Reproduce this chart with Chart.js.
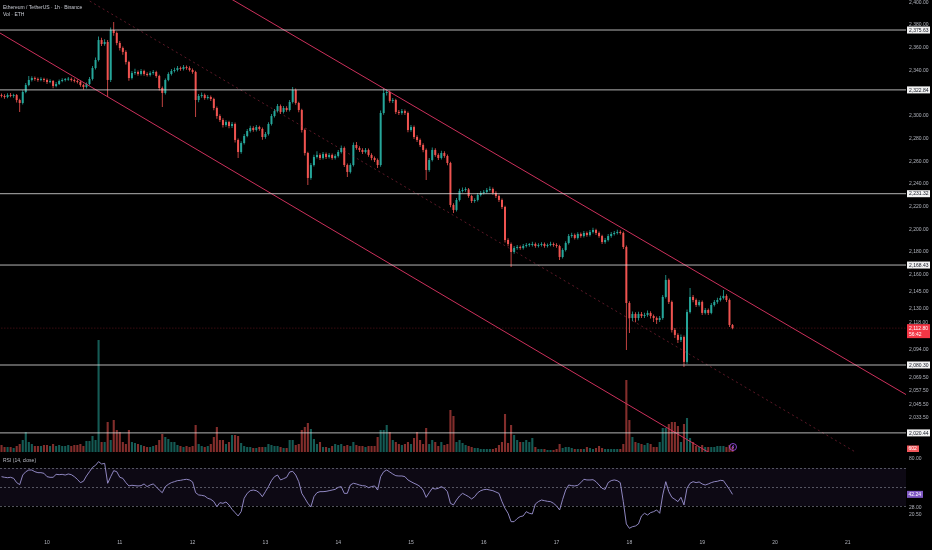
<!DOCTYPE html>
<html><head><meta charset="utf-8">
<script src="https://cdn.jsdelivr.net/npm/chart.js@4.4.1/dist/chart.umd.min.js"></script>
<style>
html,body{margin:0;padding:0;background:#000;width:932px;height:550px;overflow:hidden}
#w1{position:absolute;left:0;top:0;width:932px;height:452px}
#w2{position:absolute;left:0;top:455px;width:932px;height:95px}
canvas{display:block}
</style></head><body>
<div id="w1"><canvas id="c1"></canvas></div>
<div id="w2"><canvas id="c2"></canvas></div>
<script>
// ---------- text ----------
const titleText = 'Ethereum / TetherUS · 1h · Binance';
const volTitle = 'Vol · ETH';
const rsiTitle = 'RSI (14, close)';
const countdown = '56:42';
// ---------- categories (hourly candles; hour 0 = day 10, 00:00) ----------
const firstHour = -15;
const dayLabels = ['10','11','12','13','14','15','16','17','18','19','20','21'];
// ---------- tick labels ----------
const priceTicks = [2400,2380,2360,2340,2300,2280,2260,2240,2220,2200,2180,2160,2145,2130,2118,2094,2069.5,2057.5,2045.5,2033.5];
const rsiTicks = [80,28,20.5];
// ---------- drawings ----------
const levels = [2375.63,2322.84,2231.32,2168.43,2080.30,2020.44];
const upperChannel = [{x:50,y:2419.8},{x:290,y:2043.6}];
const lowerChannel = [{x:-20,y:2380.1},{x:230,y:1984.5}];
const midChannel = [{x:-20,y:2454.8},{x:290,y:1966.6}];
// ---------- series ----------
const opens = [
2318.0,2317.5,2316.6,2318.3,2317.5,2318.3,2313.9,2311.3,2321.0,2327.2,
2331.6,2333.3,2332.5,2331.6,2332.5,2331.6,2329.8,2330.7,2326.3,2328.0,
2330.7,2331.6,2331.9,2332.5,2331.6,2330.7,2329.8,2327.2,2325.4,2328.0,
2332.5,2342.1,2349.2,2366.8,2363.3,2365.1,2331.6,2375.6,2373.0,2364.2,
2359.8,2356.3,2347.4,2333.3,2337.7,2338.6,2336.9,2339.5,2336.9,2336.0,
2337.7,2338.6,2335.1,2324.5,2320.1,2331.6,2336.9,2339.5,2340.4,2342.1,
2341.3,2343.0,2342.1,2340.4,2338.6,2313.9,2317.5,2318.3,2315.7,2316.6,
2314.8,2306.9,2299.8,2296.3,2291.9,2294.5,2291.0,2292.8,2278.7,2268.1,
2276.0,2282.2,2286.6,2289.3,2287.5,2290.1,2288.4,2281.3,2284.0,2292.8,
2299.8,2304.2,2308.6,2303.4,2306.9,2305.1,2312.2,2322.8,2311.3,2305.1,
2287.5,2267.2,2245.2,2256.6,2263.7,2265.5,2262.8,2266.3,2263.7,2265.5,
2262.8,2264.6,2268.1,2271.6,2256.6,2250.5,2256.6,2274.3,2271.6,2269.9,
2268.1,2269.9,2265.5,2262.8,2261.0,2256.6,2302.5,2320.1,2321.0,2313.1,
2313.9,2303.4,2302.5,2304.2,2302.5,2287.5,2290.1,2281.3,2278.7,2274.3,
2269.9,2252.2,2261.0,2269.9,2265.5,2262.8,2267.2,2264.6,2258.4,2221.4,
2217.0,2225.8,2233.7,2234.6,2235.1,2229.3,2224.9,2225.8,2230.2,2232.0,
2232.8,2234.6,2235.5,2232.0,2229.3,2225.8,2219.6,2190.5,2187.0,2179.9,
2183.5,2184.3,2183.5,2185.2,2186.1,2186.1,2187.0,2185.2,2186.1,2187.0,
2185.2,2186.1,2187.0,2186.1,2185.2,2175.5,2181.7,2187.9,2194.0,2194.9,
2192.3,2195.8,2194.0,2196.7,2194.9,2197.6,2199.3,2196.7,2194.0,2188.7,
2190.5,2194.0,2195.8,2196.7,2197.6,2196.7,2184.3,2135.0,2121.7,2125.3,
2121.7,2125.3,2123.5,2124.4,2126.2,2123.5,2121.7,2120.0,2121.7,2140.3,
2155.3,2135.9,2111.2,2106.8,2102.4,2105.0,2083.0,2127.0,2140.3,2137.6,
2133.2,2135.9,2126.2,2128.8,2126.2,2133.2,2135.9,2137.6,2139.4,2141.2,
2137.6,2115.6];
const highs = [
2319.6,2318.9,2319.8,2320.1,2319.5,2319.2,2315.0,2322.6,2329.0,2335.2,
2334.9,2334.6,2333.8,2334.0,2333.6,2332.8,2332.2,2331.5,2329.7,2332.0,
2333.1,2333.4,2334.2,2333.7,2332.9,2332.0,2330.9,2328.3,2329.4,2334.3,
2344.0,2351.5,2369.9,2368.9,2367.4,2366.8,2377.9,2382.7,2374.4,2366.0,
2361.2,2357.8,2348.6,2339.6,2341.5,2340.0,2341.3,2340.7,2338.4,2339.3,
2340.4,2339.8,2336.2,2325.8,2333.0,2338.5,2341.2,2342.3,2343.9,2343.4,
2344.8,2344.3,2343.6,2341.7,2339.8,2319.2,2320.5,2319.6,2318.3,2317.9,
2315.9,2308.2,2301.4,2297.8,2296.1,2295.7,2294.6,2294.0,2279.9,2277.6,
2283.9,2288.4,2291.2,2290.8,2291.9,2291.3,2289.6,2285.8,2294.3,2301.6,
2306.1,2310.5,2310.0,2308.7,2308.4,2314.0,2325.4,2324.0,2312.5,2306.3,
2288.8,2268.4,2258.3,2265.6,2268.8,2266.9,2268.0,2267.6,2267.2,2266.8,
2266.2,2269.8,2273.9,2272.9,2258.0,2258.2,2276.5,2277.0,2273.2,2271.3,
2271.6,2271.1,2266.9,2264.2,2262.3,2304.6,2324.5,2323.2,2322.3,2315.8,
2315.0,2305.2,2306.0,2305.6,2303.7,2292.0,2291.4,2282.8,2280.0,2275.8,
2271.1,2262.8,2272.0,2271.4,2267.0,2269.1,2268.7,2265.9,2259.6,2223.0,
2227.6,2235.6,2236.9,2237.0,2236.3,2230.5,2227.4,2231.9,2233.8,2234.6,
2236.4,2237.6,2236.8,2233.4,2230.6,2227.0,2220.8,2192.0,2188.4,2185.2,
2186.1,2185.7,2187.0,2187.8,2187.9,2189.0,2188.3,2187.7,2188.6,2188.4,
2187.5,2188.9,2188.2,2187.6,2186.4,2183.2,2189.5,2195.9,2196.8,2196.2,
2197.4,2197.1,2198.5,2198.0,2199.3,2201.4,2200.5,2198.0,2195.2,2192.2,
2195.7,2197.6,2198.4,2199.6,2199.0,2197.9,2185.6,2136.5,2127.4,2126.8,
2127.2,2127.0,2126.3,2128.3,2127.6,2124.9,2123.0,2123.5,2142.1,2159.7,
2156.5,2137.1,2113.0,2108.3,2107.1,2106.4,2129.2,2148.2,2142.0,2139.0,
2137.7,2137.2,2130.6,2130.1,2134.9,2137.6,2139.5,2141.3,2146.4,2142.7,
2138.9,2116.4];
const lows = [
2316.2,2315.0,2315.4,2316.3,2316.0,2311.8,2303.4,2309.9,2319.8,2326.0,
2330.2,2331.0,2330.1,2330.4,2329.9,2328.1,2328.6,2324.4,2325.1,2327.1,
2329.6,2330.3,2330.8,2330.2,2329.3,2328.4,2325.6,2323.1,2324.0,2326.9,
2331.2,2340.8,2347.8,2361.5,2361.8,2316.6,2329.8,2370.6,2362.3,2357.6,
2353.9,2345.3,2330.8,2331.9,2336.2,2335.3,2335.6,2335.4,2334.6,2334.7,
2336.3,2333.6,2322.3,2307.8,2318.7,2330.4,2335.6,2338.1,2339.0,2339.8,
2340.0,2340.7,2339.0,2337.1,2299.0,2311.9,2316.0,2314.2,2314.3,2313.1,
2305.0,2297.5,2294.6,2289.8,2290.4,2289.1,2289.3,2276.4,2262.8,2266.5,
2274.8,2281.0,2285.3,2285.9,2286.1,2286.8,2278.9,2279.7,2282.6,2291.5,
2298.4,2302.9,2301.5,2302.0,2303.6,2303.8,2310.9,2309.7,2303.2,2285.2,
2264.9,2239.0,2243.6,2255.2,2262.3,2261.1,2261.5,2262.0,2262.3,2261.3,
2261.4,2263.2,2266.8,2254.9,2246.0,2249.1,2255.2,2270.1,2268.0,2266.4,
2266.7,2263.8,2260.9,2259.3,2254.0,2255.1,2301.0,2317.9,2311.5,2311.4,
2301.6,2300.8,2300.9,2300.7,2285.4,2286.0,2279.6,2276.9,2272.4,2267.8,
2243.4,2250.6,2259.7,2263.9,2261.0,2261.4,2263.0,2256.5,2219.3,2214.3,
2215.6,2224.5,2232.3,2233.1,2227.8,2223.1,2223.3,2224.4,2228.9,2230.6,
2231.4,2233.3,2230.5,2227.6,2224.0,2217.8,2188.3,2184.9,2166.7,2178.4,
2181.9,2182.0,2182.1,2183.9,2184.6,2184.8,2183.7,2183.9,2184.8,2183.6,
2183.8,2184.9,2184.5,2183.7,2172.9,2174.1,2180.4,2186.6,2192.5,2190.9,
2191.0,2192.6,2192.8,2193.3,2193.6,2196.2,2195.0,2192.4,2186.9,2187.3,
2189.2,2192.6,2194.5,2195.4,2195.3,2182.5,2093.6,2108.5,2118.8,2117.9,
2119.6,2121.8,2121.7,2122.9,2121.4,2118.3,2116.5,2118.2,2120.3,2139.0,
2134.0,2108.9,2104.2,2099.7,2100.5,2078.6,2081.5,2125.8,2135.7,2131.4,
2131.8,2124.3,2124.9,2124.4,2125.0,2131.9,2134.4,2136.2,2138.0,2135.8,
2113.9,2111.9];
const closes = [
2317.5,2316.6,2318.3,2317.5,2318.3,2313.9,2311.3,2321.0,2327.2,2331.6,
2333.3,2332.5,2331.6,2332.5,2331.6,2329.8,2330.7,2326.3,2328.0,2330.7,
2331.6,2331.9,2332.5,2331.6,2330.7,2329.8,2327.2,2325.4,2328.0,2332.5,
2342.1,2349.2,2366.8,2363.3,2365.1,2331.6,2375.6,2373.0,2364.2,2359.8,
2356.3,2347.4,2333.3,2337.7,2338.6,2336.9,2339.5,2336.9,2336.0,2337.7,
2338.6,2335.1,2324.5,2320.1,2331.6,2336.9,2339.5,2340.4,2342.1,2341.3,
2343.0,2342.1,2340.4,2338.6,2313.9,2317.5,2318.3,2315.7,2316.6,2314.8,
2306.9,2299.8,2296.3,2291.9,2294.5,2291.0,2292.8,2278.7,2268.1,2276.0,
2282.2,2286.6,2289.3,2287.5,2290.1,2288.4,2281.3,2284.0,2292.8,2299.8,
2304.2,2308.6,2303.4,2306.9,2305.1,2312.2,2322.8,2311.3,2305.1,2287.5,
2267.2,2245.2,2256.6,2263.7,2265.5,2262.8,2266.3,2263.7,2265.5,2262.8,
2264.6,2268.1,2271.6,2256.6,2250.5,2256.6,2274.3,2271.6,2269.9,2268.1,
2269.9,2265.5,2262.8,2261.0,2256.6,2302.5,2320.1,2321.0,2313.1,2313.9,
2303.4,2302.5,2304.2,2302.5,2287.5,2290.1,2281.3,2278.7,2274.3,2269.9,
2252.2,2261.0,2269.9,2265.5,2262.8,2267.2,2264.6,2258.4,2221.4,2217.0,
2225.8,2233.7,2234.6,2235.1,2229.3,2224.9,2225.8,2230.2,2232.0,2232.8,
2234.6,2235.5,2232.0,2229.3,2225.8,2219.6,2190.5,2187.0,2179.9,2183.5,
2184.3,2183.5,2185.2,2186.1,2186.1,2187.0,2185.2,2186.1,2187.0,2185.2,
2186.1,2187.0,2186.1,2185.2,2175.5,2181.7,2187.9,2194.0,2194.9,2192.3,
2195.8,2194.0,2196.7,2194.9,2197.6,2199.3,2196.7,2194.0,2188.7,2190.5,
2194.0,2195.8,2196.7,2197.6,2196.7,2184.3,2135.0,2121.7,2125.3,2121.7,
2125.3,2123.5,2124.4,2126.2,2123.5,2121.7,2120.0,2121.7,2140.3,2155.3,
2135.9,2111.2,2106.8,2102.4,2105.0,2083.0,2127.0,2140.3,2137.6,2133.2,
2135.9,2126.2,2128.8,2126.2,2133.2,2135.9,2137.6,2139.4,2141.2,2137.6,
2115.6,2112.8];
const volumes = [
840,600,600,600,480,720,960,1440,2400,1200,
960,720,720,720,840,840,720,960,720,840,
720,720,840,720,840,840,960,720,1320,1320,
1920,1440,13440,1200,1200,3600,1440,3840,2640,2400,
1200,960,2640,1200,1080,960,840,720,600,600,
720,840,1440,2160,1800,1560,1200,1200,840,720,
600,720,600,720,3240,960,720,600,720,960,
1800,3000,1440,1440,960,1200,2040,2040,1920,1080,
720,600,600,480,480,600,600,600,960,840,
720,720,600,480,480,1440,1440,840,960,2640,
3000,3480,2760,1560,960,1200,600,600,480,720,
960,840,960,720,840,720,1200,840,720,720,
600,720,720,720,1800,2640,2640,3240,2400,1440,
1200,960,840,960,1200,960,1680,2400,1440,960,
2880,960,1440,1200,720,1200,840,960,5040,4320,
1200,1440,1080,840,720,600,480,480,360,360,
360,360,360,480,840,1200,4560,1080,3240,2040,
1440,1200,1200,1440,1200,1680,600,360,360,360,
240,240,240,360,960,480,600,600,480,360,
360,360,360,600,480,360,480,720,480,360,
360,360,360,360,360,960,8640,3840,1800,1200,
1080,960,840,1080,960,600,600,1200,2880,2880,
3360,3600,3600,3120,1200,3360,4080,1680,1200,720,
600,840,600,600,600,600,720,720,720,600,
840,602];
const rsi = [
60.9,60.2,59.8,60.2,59.1,54.6,52.5,62.6,66.1,67.9,
67.9,66.1,65.1,65.1,64.4,60.9,60.2,60.2,63.3,63.0,
63.3,62.6,63.7,63.0,60.9,58.1,54.6,56.0,61.6,66.1,
70.7,72.8,76.7,74.2,74.9,53.9,60.9,67.2,66.1,60.2,
59.1,54.6,51.1,51.8,51.4,51.1,51.4,53.2,50.4,52.1,
53.2,50.4,46.8,44.0,50.4,52.8,54.6,55.6,56.7,57.0,
57.7,58.1,57.4,55.3,44.0,41.6,41.2,40.5,38.1,37.0,
34.6,29.3,33.5,32.8,34.2,31.1,26.5,23.0,19.5,24.0,
38.1,43.3,46.1,46.8,46.1,44.0,39.8,45.1,50.4,56.7,
60.9,62.6,57.4,58.8,60.2,65.8,66.5,62.6,55.6,43.3,
38.1,32.8,29.0,39.8,44.0,45.1,45.1,45.4,46.1,46.8,
47.5,49.6,50.4,43.3,43.3,52.1,53.9,53.2,52.1,51.4,
51.1,49.3,50.4,51.1,46.8,60.9,66.1,67.9,65.8,63.7,
61.9,61.6,61.6,60.9,57.4,55.6,53.9,52.5,50.4,46.8,
39.1,44.0,48.6,47.9,48.6,50.4,48.6,45.1,32.8,31.1,
36.3,40.5,43.3,41.6,39.8,37.4,39.8,44.0,46.1,47.2,
47.5,46.8,46.1,44.7,43.3,34.6,27.5,22.3,13.5,13.5,
16.7,18.8,19.5,24.0,22.3,21.6,32.1,34.6,36.3,35.6,
34.9,34.6,32.8,30.0,25.8,37.0,46.8,52.1,51.4,51.1,
51.8,54.6,58.1,57.4,57.4,57.7,55.6,52.1,48.6,47.5,
54.6,56.7,57.4,56.7,54.6,34.6,11.1,6.5,8.2,8.9,
11.1,19.5,22.3,20.5,23.0,24.0,25.8,22.3,41.6,55.6,
45.1,39.1,37.0,34.6,39.1,31.1,48.6,53.9,55.6,54.6,
55.3,53.2,52.1,53.2,54.6,55.6,56.0,57.0,56.7,52.1,
47.5,42.24];

// ---------- styling ----------
const FONT = '"Liberation Sans", Arial, sans-serif';
const UP = '#26a69a', DN = '#ef5350';
const UPV = 'rgba(38,166,154,0.55)', DNV = 'rgba(239,83,80,0.55)';
const AXIS_TXT = '#b2b5be';
const n = closes.length;
const hours = closes.map((_, i) => firstHour + i);
const isUp = i => closes[i] >= opens[i];
const fmt = v => v.toLocaleString('en-US', {minimumFractionDigits:2, maximumFractionDigits:2});
const X_MIN = -15.5, X_MAX = 283.2;
const P_MIN = 2003.6, P_MAX = 2402.1;
const V_MAX = 54240;
const R_MIN = 4.7, R_MAX = 83.7;
Chart.defaults.font.family = FONT;
Chart.defaults.animation = false;

const priceOverlay = {
  id: 'priceOverlay',
  afterDraw(chart) {
    const {ctx, chartArea: a, scales: {x, y}} = chart;
    ctx.save();
    ctx.font = '5px ' + FONT;
    ctx.textBaseline = 'middle';
    ctx.textAlign = 'left';
    ctx.fillStyle = '#c9ccd4';
    ctx.fillText(titleText, 3, 7.5);
    ctx.fillText(volTitle, 3, 15);
    const bx = a.right + 1, bw = 23;
    levels.forEach(v => {
      const py = y.getPixelForValue(v);
      ctx.fillStyle = '#f2f2f2';
      ctx.fillRect(bx, py - 3.5, bw, 7);
      ctx.fillStyle = '#131722';
      ctx.fillText(fmt(v), bx + 2, py + 0.3);
    });
    const last = closes[n - 1];
    const pl = y.getPixelForValue(last);
    ctx.fillStyle = isUp(n - 1) ? UP : '#f23645';
    ctx.fillRect(bx, pl - 4, bw, 14);
    ctx.fillStyle = '#ffffff';
    ctx.fillText(fmt(last), bx + 2, pl);
    ctx.fillText(countdown, bx + 2, pl + 6.5);
    // volume value label
    ctx.fillStyle = isUp(n - 1) ? UP : '#f0565a';
    ctx.fillRect(bx, a.bottom - 6.5, 12, 6.5);
    ctx.fillStyle = '#ffffff';
    ctx.fillText(String(volumes[n - 1]), bx + 1.5, a.bottom - 3.1);
    // event marker
    const cx = x.getPixelForValue(hours[n - 1]) + 0.5, cy = a.bottom - 5;
    ctx.strokeStyle = '#a855f7';
    ctx.lineWidth = 0.8;
    ctx.beginPath(); ctx.arc(cx, cy, 3.5, 0, Math.PI * 2); ctx.stroke();
    ctx.beginPath(); ctx.moveTo(cx + 0.6, cy - 2); ctx.lineTo(cx - 0.8, cy + 0.2); ctx.lineTo(cx + 0.8, cy - 0.2); ctx.lineTo(cx - 0.6, cy + 2); ctx.stroke();
    ctx.restore();
  }
};

const lineDs = (data, color, width, dash, order) => ({
  type: 'line', data, borderColor: color, borderWidth: width, borderDash: dash || [],
  pointRadius: 0, tension: 0, order, yAxisID: 'y', xAxisID: 'x'
});

const ds1 = [];
levels.forEach(v => ds1.push(lineDs([{x:-20, y:v}, {x:290, y:v}], 'rgba(225,225,225,0.8)', 1, null, 0)));
ds1.push(lineDs([{x:-20, y:closes[n-1]}, {x:290, y:closes[n-1]}], 'rgba(242,54,69,0.45)', 0.8, [1,2], 1));
ds1.push(lineDs(upperChannel, 'rgba(214,51,96,0.95)', 1, null, 1));
ds1.push(lineDs(lowerChannel, 'rgba(214,51,96,0.95)', 1, null, 1));
ds1.push(lineDs(midChannel, 'rgba(190,50,80,0.6)', 0.8, [2,3], 1));
ds1.push({
  type: 'bar', order: 2, grouped: false, maxBarThickness: 2, minBarLength: 1, inflateAmount: 0, borderWidth: 0,
  data: hours.map((h, i) => ({x: h, y: [opens[i], closes[i]]})),
  backgroundColor: ctx => isUp(ctx.dataIndex) ? UP : DN, yAxisID: 'y', xAxisID: 'x'
});
ds1.push({
  type: 'bar', order: 3, grouped: false, maxBarThickness: 0.8, minBarLength: 1, inflateAmount: 0, borderWidth: 0,
  data: hours.map((h, i) => ({x: h, y: [lows[i], highs[i]]})),
  backgroundColor: ctx => isUp(ctx.dataIndex) ? UP : DN, yAxisID: 'y', xAxisID: 'x'
});
ds1.push({
  type: 'bar', order: 4, grouped: false, maxBarThickness: 2.1, inflateAmount: 0, borderWidth: 0,
  data: hours.map((h, i) => ({x: h, y: volumes[i]})),
  backgroundColor: ctx => isUp(ctx.dataIndex) ? UPV : DNV, yAxisID: 'vol', xAxisID: 'x'
});

new Chart(document.getElementById('c1'), {
  type: 'bar',
  data: {datasets: ds1},
  options: {
    responsive: true, maintainAspectRatio: false, animation: false, events: [],
    layout: {padding: 0, autoPadding: false},
    plugins: {legend: {display: false}, tooltip: {enabled: false}},
    scales: {
      x: {type: 'linear', min: X_MIN, max: X_MAX, offset: false, display: false},
      y: {
        type: 'linear', position: 'right', min: P_MIN, max: P_MAX,
        grid: {display: false, drawTicks: false}, border: {display: false},
        afterBuildTicks: s => { s.ticks = priceTicks.map(v => ({value: v})); },
        afterFit: s => { s.width = 26; s.paddingTop = 0; s.paddingBottom = 0; },
        ticks: {autoSkip: false, padding: 3, color: AXIS_TXT, font: {size: 5, family: FONT}, callback: v => fmt(v)}
      },
      vol: {type: 'linear', display: false, min: 0, max: V_MAX}
    }
  },
  plugins: [priceOverlay]
});

const rsiOverlay = {
  id: 'rsiOverlay',
  beforeDatasetsDraw(chart) {
    const {ctx, chartArea: a, scales: {y}} = chart;
    const y70 = y.getPixelForValue(70), y30 = y.getPixelForValue(30);
    ctx.save();
    ctx.fillStyle = 'rgba(126,87,194,0.1)';
    ctx.fillRect(a.left, y70, a.right - a.left, y30 - y70);
    ctx.strokeStyle = 'rgba(135,138,150,0.85)';
    ctx.lineWidth = 0.7;
    ctx.setLineDash([2, 2]);
    [70, 50, 30].forEach(v => {
      const py = Math.round(y.getPixelForValue(v)) + 0.5;
      ctx.beginPath(); ctx.moveTo(a.left, py); ctx.lineTo(a.right, py); ctx.stroke();
    });
    ctx.restore();
  },
  afterDraw(chart) {
    const {ctx, chartArea: a, scales: {y}} = chart;
    ctx.save();
    ctx.font = '5px ' + FONT;
    ctx.textBaseline = 'middle';
    ctx.textAlign = 'left';
    ctx.fillStyle = '#b8bbc4';
    ctx.fillText(rsiTitle, 3, 6);
    const v = rsi[n - 1], py = y.getPixelForValue(v);
    ctx.fillStyle = '#7e57c2';
    ctx.fillRect(a.right + 1, py - 3.5, 16, 7);
    ctx.fillStyle = '#ffffff';
    ctx.fillText(fmt(v), a.right + 2.5, py + 0.3);
    ctx.restore();
  }
};

new Chart(document.getElementById('c2'), {
  type: 'line',
  data: {datasets: [{
    data: hours.map((h, i) => ({x: h, y: rsi[i]})),
    borderColor: '#9d94d4', borderWidth: 0.9, pointRadius: 0, tension: 0
  }]},
  options: {
    responsive: true, maintainAspectRatio: false, animation: false, events: [],
    layout: {padding: 0, autoPadding: false},
    plugins: {legend: {display: false}, tooltip: {enabled: false}},
    scales: {
      x: {
        type: 'linear', min: X_MIN, max: X_MAX, offset: false,
        grid: {display: false, drawTicks: false}, border: {display: false},
        afterBuildTicks: s => { s.ticks = dayLabels.map((_, k) => ({value: k * 24})); },
        afterFit: s => { s.height = 20; s.paddingLeft = 0; s.paddingRight = 0; },
        ticks: {autoSkip: false, maxRotation: 0, padding: 10, color: AXIS_TXT, font: {size: 5, family: FONT},
                callback: (v, idx) => dayLabels[idx]}
      },
      y: {
        type: 'linear', position: 'right', min: R_MIN, max: R_MAX,
        grid: {display: false, drawTicks: false}, border: {display: false},
        afterBuildTicks: s => { s.ticks = rsiTicks.map(v => ({value: v})); },
        afterFit: s => { s.width = 26; s.paddingTop = 0; s.paddingBottom = 0; },
        ticks: {autoSkip: false, padding: 3, color: AXIS_TXT, font: {size: 5, family: FONT}, callback: v => fmt(v)}
      }
    }
  },
  plugins: [rsiOverlay]
});
</script>
</body></html>
